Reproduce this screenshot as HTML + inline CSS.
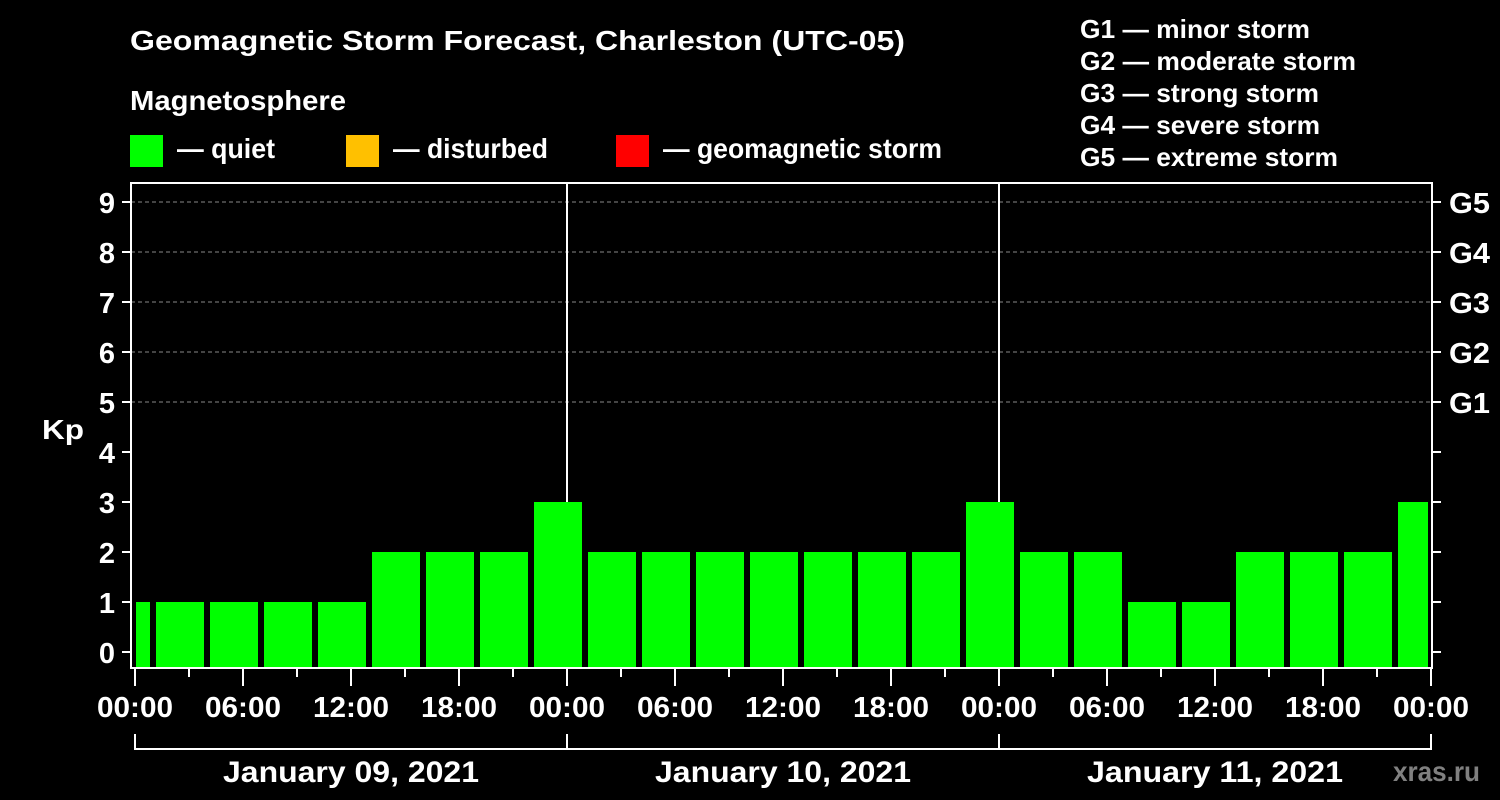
<!DOCTYPE html>
<html><head><meta charset="utf-8"><style>
html,body{margin:0;padding:0;background:#000;}
svg{display:block;font-family:"Liberation Sans",sans-serif;font-weight:bold;}
</style></head><body>
<svg id="chart" width="1500" height="800" viewBox="0 0 1500 800">
<rect width="1500" height="800" fill="#000"/>
<text x="130" y="50" fill="#fff" font-size="28" textLength="775" lengthAdjust="spacingAndGlyphs">Geomagnetic Storm Forecast, Charleston (UTC-05)</text>
<text x="130" y="110" fill="#fff" font-size="28" textLength="216" lengthAdjust="spacingAndGlyphs">Magnetosphere</text>
<g><rect x="130" y="135" width="33" height="32" fill="#00ff00"/><text x="177" y="158" fill="#fff" font-size="28" textLength="98" lengthAdjust="spacingAndGlyphs">— quiet</text></g>
<g><rect x="346" y="135" width="33" height="32" fill="#ffc000"/><text x="393" y="158" fill="#fff" font-size="28" textLength="155" lengthAdjust="spacingAndGlyphs">— disturbed</text></g>
<g><rect x="616" y="135" width="33" height="32" fill="#ff0000"/><text x="663" y="158" fill="#fff" font-size="28" textLength="279" lengthAdjust="spacingAndGlyphs">— geomagnetic storm</text></g>
<g fill="#fff" font-size="26" lengthAdjust="spacingAndGlyphs">
<text x="1080" y="38" textLength="230" lengthAdjust="spacingAndGlyphs">G1 — minor storm</text>
<text x="1080" y="70" textLength="276" lengthAdjust="spacingAndGlyphs">G2 — moderate storm</text>
<text x="1080" y="102" textLength="239" lengthAdjust="spacingAndGlyphs">G3 — strong storm</text>
<text x="1080" y="134" textLength="240" lengthAdjust="spacingAndGlyphs">G4 — severe storm</text>
<text x="1080" y="166" textLength="258" lengthAdjust="spacingAndGlyphs">G5 — extreme storm</text>
</g>
<text x="42" y="439" fill="#fff" font-size="28" textLength="42" lengthAdjust="spacingAndGlyphs">Kp</text>
<text x="1393" y="781" fill="#808080" font-size="28" textLength="87" lengthAdjust="spacingAndGlyphs">xras.ru</text>
<g id="grid"></g><g id="bars"></g><g id="axes"></g>
</svg>
<script>
const kpValues = [1, 1,1,1,1,2,2,2,3, 2,2,2,2,2,2,2,3, 2,2,1,1,2,2,2,3];
const slotStartHours = [-2, 1,4,7,10,13,16,19,22, 25,28,31,34,37,40,43,46, 49,52,55,58,61,64,67,70];
const yTicks = [0,1,2,3,4,5,6,7,8,9];
const gLabels = ['G1','G2','G3','G4','G5'];
const gLevels = [5,6,7,8,9];
const xTickLabels = ['00:00','06:00','12:00','18:00','00:00','06:00','12:00','18:00','00:00','06:00','12:00','18:00','00:00'];
const dayLabels = ['January 09, 2021','January 10, 2021','January 11, 2021'];

const NS='http://www.w3.org/2000/svg';
const x0=135, pxPerHour=18, y0=652, pxPerKp=50;
const L=131, R=1432, T=183, B=668;
const xs=h=>x0+h*pxPerHour, ys=k=>y0-k*pxPerKp;
function mk(tag,attrs,parent){const e=document.createElementNS(NS,tag);for(const k in attrs)e.setAttribute(k,attrs[k]);parent.appendChild(e);return e;}
const grid=document.getElementById('grid'),bars=document.getElementById('bars'),axes=document.getElementById('axes');

gLevels.forEach(k=>{
 const l=mk('line',{x1:L,x2:R,y1:ys(k),y2:ys(k),stroke:'#888','stroke-dasharray':'4,3','stroke-width':1},grid);
 
 
});
[1,2].forEach(d=>{
 const l=mk('line',{x1:xs(d*24),x2:xs(d*24),y1:T,y2:B,stroke:'#fff','stroke-width':2},grid);
 
 
});

kpValues.forEach((v,i)=>{
 let a=xs(slotStartHours[i])+3, b=xs(slotStartHours[i]+3)-3;
 a=Math.max(a,136); b=Math.min(b,1428);
 const color=v>=5?'#ff0000':(v>=4?'#ffc000':'#00ff00');
 const r=mk('rect',{x:a,y:ys(v),width:b-a,height:B-ys(v),fill:color},bars);
 
 
});

const frame=mk('rect',{x:L,y:T,width:R-L,height:B-T,fill:'none',stroke:'#fff','stroke-width':2},axes);



yTicks.forEach(k=>{
 mk('line',{x1:L-9,x2:L,y1:ys(k),y2:ys(k),stroke:'#fff','stroke-width':2},axes);
 mk('line',{x1:R,x2:R+9,y1:ys(k),y2:ys(k),stroke:'#fff','stroke-width':2},axes);
 const t=mk('text',{x:L-16,y:ys(k)+11,fill:'#fff','font-size':29,'text-anchor':'end'},axes);
 t.textContent=k;
 
 
});
gLevels.forEach((k,i)=>{
 const t=mk('text',{x:R+17,y:ys(k)+11,fill:'#fff','font-size':29,textLength:41,lengthAdjust:'spacingAndGlyphs'},axes);
 t.textContent=gLabels[i];
 
 
});
for(let h=0;h<=72;h+=3){
 const major=h%6===0;
 mk('line',{x1:xs(h),x2:xs(h),y1:B,y2:B+(major?18:9),stroke:'#fff','stroke-width':2},axes);
}
xTickLabels.forEach((s,i)=>{
 const t=mk('text',{x:xs(i*6)-38,y:717,fill:'#fff','font-size':29,textLength:76,lengthAdjust:'spacingAndGlyphs'},axes);
 t.textContent=s;
 
 
});
mk('path',{d:`M${xs(0)},734 V749 H${xs(72)} V734`,fill:'none',stroke:'#fff','stroke-width':2},axes);
[1,2].forEach(d=>mk('line',{x1:xs(d*24),x2:xs(d*24),y1:734,y2:749,stroke:'#fff','stroke-width':2},axes));
dayLabels.forEach((s,i)=>{
 const t=mk('text',{x:xs(i*24+12)-128,y:782,fill:'#fff','font-size':30,textLength:256,lengthAdjust:'spacingAndGlyphs'},axes);
 t.textContent=s;
 
 
});
</script>
</body></html>
